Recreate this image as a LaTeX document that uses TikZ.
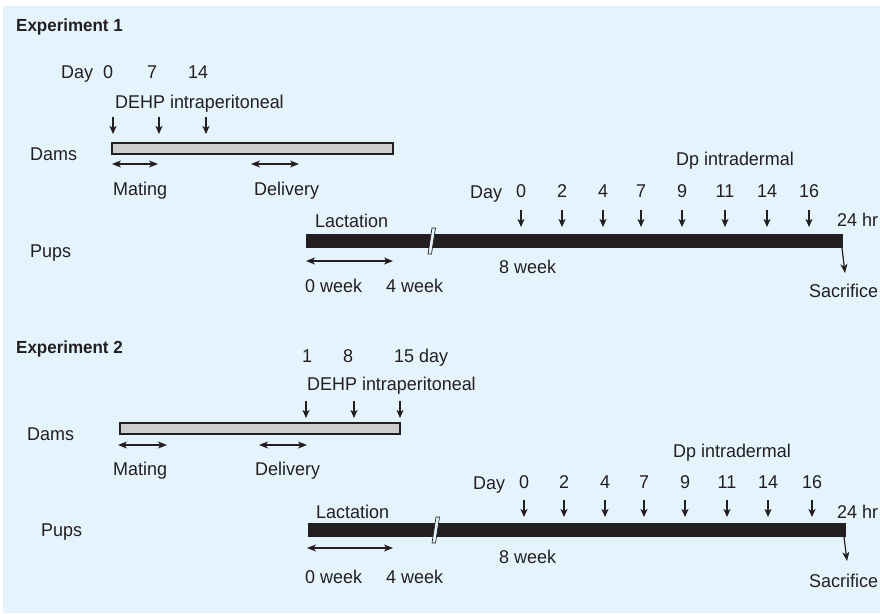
\documentclass[tikz,border=0pt]{standalone}
\usepackage{fontspec}
\setmainfont{Liberation Sans}[FakeStretch=0.97]
\usetikzlibrary{arrows.meta}
\definecolor{bg}{RGB}{229,244,252}
\definecolor{ink}{RGB}{35,31,32}
\definecolor{damgrey}{RGB}{205,205,205}
\tikzset{
  lbl/.style={inner sep=0pt, anchor=base west, text=ink, font=\fontsize{18.5}{20}\selectfont},
  num/.style={inner sep=0pt, anchor=base, text=ink, font=\fontsize{18.5}{20}\selectfont},
  ttl/.style={inner sep=0pt, anchor=base west, text=ink, font=\fontsize{17.5}{19}\selectfont\bfseries},
  dnarrow/.style={draw=ink, line width=1.4pt, -{Stealth[length=8pt,width=7pt,inset=2pt]}},
  span/.style={draw=ink, line width=1.1pt, {Stealth[length=9pt,width=7pt,inset=2.5pt]}-{Stealth[length=9pt,width=7pt,inset=2.5pt]}},
  sacarrow/.style={draw=ink, line width=1.2pt, -{Stealth[length=9pt,width=7pt,inset=2.5pt]}},
  dambar/.style={draw=ink, fill=damgrey, line width=1.1pt},
  pupbar/.style={fill=ink, draw=none},
  brk/.style={fill=bg, draw=ink, line width=0.7pt}
}
\begin{document}
\begin{tikzpicture}[x=1pt,y=-1pt]
\path[use as bounding box] (0,0) rectangle (880,613);
\fill[bg] (3,6) rectangle (880,613);

% ================= Experiment 1 =================
\node[ttl] (e1) at (16,31) {Experiment 1};
\node[lbl] (day1) at (61,78) {Day};
\node[num] (d1n0) at (108,78) {0};
\node[num] (d1n7) at (152,78) {7};
\node[num] (d1n14) at (198,78) {14};
\node[lbl] (dehp1) at (115,108) {DEHP intraperitoneal};
\foreach \x [count=\i] in {113,159,206}{
  \coordinate (a1s\i) at (\x,117);
  \coordinate (a1e\i) at (\x,134);
  \draw[dnarrow] (a1s\i) -- (a1e\i);
}
\node[lbl] (dams1) at (30,160) {Dams};
\draw[dambar] (112,143) rectangle (393,154);
\coordinate (m1a) at (112,164); \coordinate (m1b) at (158,164);
\draw[span] (m1a) -- (m1b);
\coordinate (v1a) at (251,164); \coordinate (v1b) at (299,164);
\draw[span] (v1a) -- (v1b);
\node[lbl] (mat1) at (113,195) {Mating};
\node[lbl] (del1) at (254,195) {Delivery};

\node[lbl] (dp1) at (676,165) {Dp intradermal};
\node[lbl] (pday1) at (470,198) {Day};
\foreach \x/\t [count=\i] in {521/0,562/2,603/4,641/7,682/9,725/11,767/14,809/16}{
  \node[num] (p1n\i) at (\x,197) {\t};
  \coordinate (p1s\i) at (\x,210);
  \coordinate (p1e\i) at (\x,227);
  \draw[dnarrow] (p1s\i) -- (p1e\i);
}
\node[lbl] (lac1) at (315,227) {Lactation};
\node[lbl] (hr1) at (837,226) {24 hr};
\node[lbl] (pups1) at (30,257) {Pups};
\fill[pupbar] (306,234) rectangle (843,248);
\draw[brk] (428,254) -- (432,228) -- (435.5,228) -- (431.5,254) -- cycle;
\coordinate (s1a) at (842,248); \coordinate (s1b) at (845,273);
\draw[sacarrow] (s1a) -- (s1b);
\coordinate (w1a) at (306,261); \coordinate (w1b) at (393,261);
\draw[span] (w1a) -- (w1b);
\node[lbl] (wk81) at (499,273) {8 week};
\node[lbl] (wk01) at (305,292) {0 week};
\node[lbl] (wk41) at (386,292) {4 week};
\node[lbl] (sac1) at (809,297) {Sacrifice};

% ================= Experiment 2 =================
\node[ttl] (e2) at (16,353) {Experiment 2};
\node[num] (d2n1) at (307,362) {1};
\node[num] (d2n8) at (348,362) {8};
\node[lbl] (d2n15) at (394,362) {15 day};
\node[lbl] (dehp2) at (307,390) {DEHP intraperitoneal};
\foreach \x [count=\i] in {306,354,400}{
  \coordinate (a2s\i) at (\x,401);
  \coordinate (a2e\i) at (\x,418);
  \draw[dnarrow] (a2s\i) -- (a2e\i);
}
\node[lbl] (dams2) at (27,440) {Dams};
\draw[dambar] (120,423) rectangle (400,434);
\coordinate (m2a) at (118,445); \coordinate (m2b) at (167,445);
\draw[span] (m2a) -- (m2b);
\coordinate (v2a) at (259,445); \coordinate (v2b) at (307,445);
\draw[span] (v2a) -- (v2b);
\node[lbl] (mat2) at (113,475) {Mating};
\node[lbl] (del2) at (255,475) {Delivery};

\node[lbl] (dp2) at (673,457) {Dp intradermal};
\node[lbl] (pday2) at (473,489) {Day};
\foreach \x/\t [count=\i] in {524/0,564/2,605/4,644/7,685/9,727/11,768/14,812/16}{
  \node[num] (p2n\i) at (\x,488) {\t};
  \coordinate (p2s\i) at (\x,500);
  \coordinate (p2e\i) at (\x,517);
  \draw[dnarrow] (p2s\i) -- (p2e\i);
}
\node[lbl] (lac2) at (316,518) {Lactation};
\node[lbl] (hr2) at (837,518) {24 hr};
\node[lbl] (pups2) at (41,536) {Pups};
\fill[pupbar] (308,523) rectangle (846,537);
\draw[brk] (432,543) -- (436,517) -- (439.5,517) -- (435.5,543) -- cycle;
\coordinate (s2a) at (844,537); \coordinate (s2b) at (847,561);
\draw[sacarrow] (s2a) -- (s2b);
\coordinate (w2a) at (307,548); \coordinate (w2b) at (393,548);
\draw[span] (w2a) -- (w2b);
\node[lbl] (wk82) at (499,563) {8 week};
\node[lbl] (wk02) at (305,583) {0 week};
\node[lbl] (wk42) at (386,583) {4 week};
\node[lbl] (sac2) at (809,587) {Sacrifice};
\end{tikzpicture}
\end{document}
